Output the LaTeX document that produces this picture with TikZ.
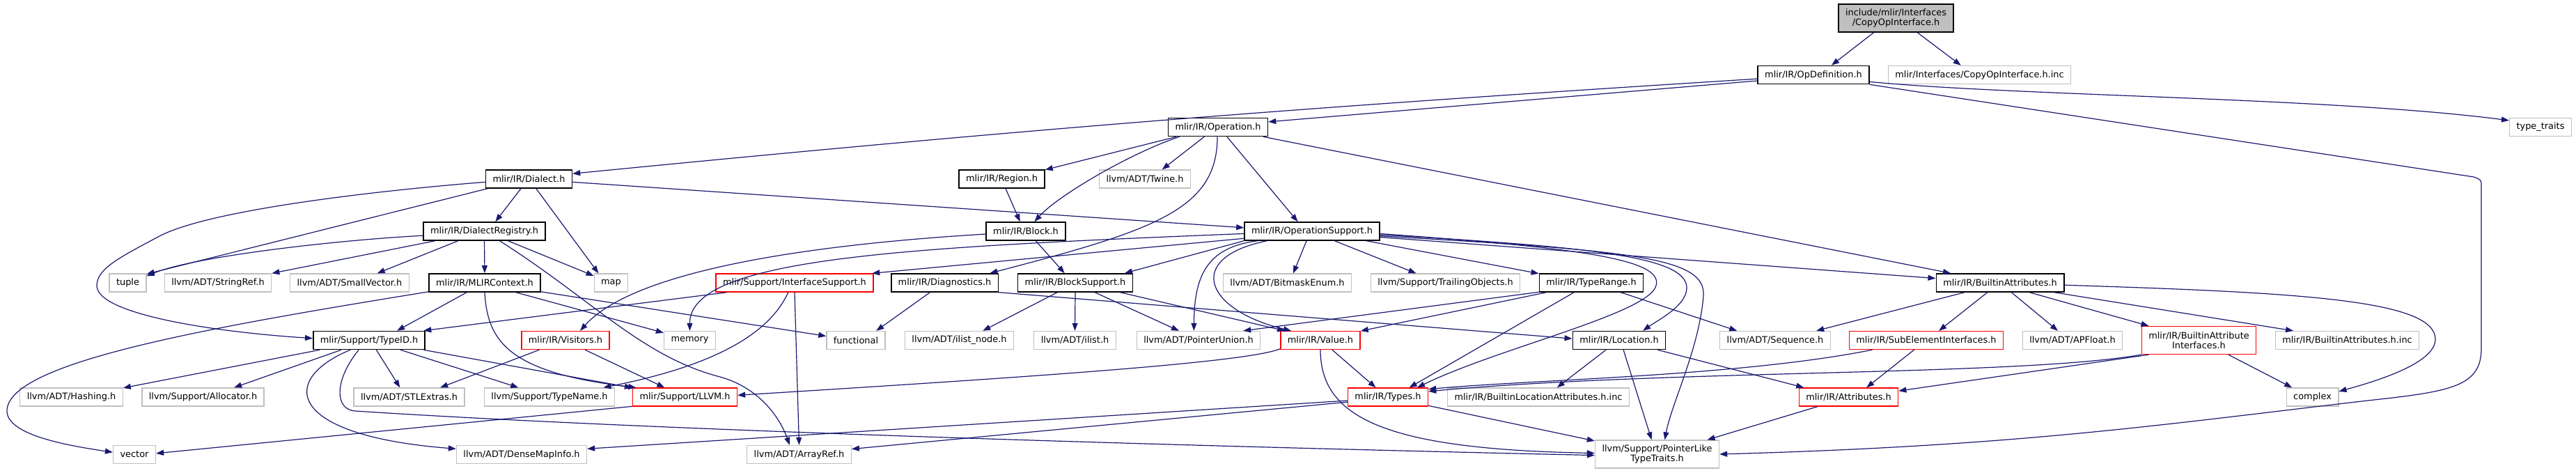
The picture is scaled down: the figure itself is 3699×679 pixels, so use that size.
\documentclass[tikz,border=0pt]{standalone}
\usepackage{fontspec}
\setmainfont{DejaVu Sans}
\usepackage{xcolor}
\usepackage{tikz}
\usetikzlibrary{arrows.meta}
\definecolor{edgeblue}{RGB}{25,25,112}
\definecolor{extgray}{RGB}{191,191,191}
\definecolor{partred}{RGB}{255,0,0}

\begin{document}
\begin{tikzpicture}[
    x=1pt, y=-1pt,
    filebox/.style={rectangle, fill=white, minimum height=26pt, inner xsep=10pt, inner ysep=2pt,
                align=center, font=\fontsize{12.9}{14.5}\selectfont},
    box/.style={filebox, draw=black, line width=1.6pt},
    extbox/.style={filebox, draw=extgray, line width=1.3pt},
    redbox/.style={filebox, draw=partred, line width=1.3pt},
    mainbox/.style={box, fill=extgray},
    twoline/.style={minimum height=40pt},
    arrow/.style={->, >={Stealth[inset=0pt, length=11pt, width=8pt]}, draw=edgeblue, line width=1.2pt}
]
    \fill[white] (0,0) rectangle (3699,679);
    \useasboundingbox (0,0) rectangle (3699,679);

    \node[mainbox, twoline] (copyop) at (2722.5,26) {include/mlir/Interfaces\\/CopyOpInterface.h};
    \node[box] (opdef) at (2604,107.5) {mlir/IR/OpDefinition.h};
    \node[extbox] (copyinc) at (2842.5,107.5) {mlir/Interfaces/CopyOpInterface.h.inc};
    \node[box] (operation) at (1749,182.5) {mlir/IR/Operation.h};
    \node[extbox] (typetraits) at (3648,182.5) {type\_traits};
    \node[box] (dialect) at (759.5,257) {mlir/IR/Dialect.h};
    \node[box] (region) at (1438.5,257) {mlir/IR/Region.h};
    \node[extbox] (twine) at (1644,257) {llvm/ADT/Twine.h};
    \node[box] (dialectreg) at (695.5,332) {mlir/IR/DialectRegistry.h};
    \node[box] (block) at (1473,332) {mlir/IR/Block.h};
    \node[box] (opsupport) at (1884,332) {mlir/IR/OperationSupport.h};

    \node[extbox] (tuple) at (183.5,406) {tuple};
    \node[extbox] (stringref) at (313,406) {llvm/ADT/StringRef.h};
    \node[extbox] (smallvector) at (502,406) {llvm/ADT/SmallVector.h};
    \node[box] (mlircontext) at (696,406) {mlir/IR/MLIRContext.h};
    \node[extbox] (map) at (877.5,406) {map};
    \node[redbox] (ifacesupport) at (1141,406) {mlir/Support/InterfaceSupport.h};
    \node[box] (diagnostics) at (1356.5,406) {mlir/IR/Diagnostics.h};
    \node[box] (blocksupport) at (1544,406) {mlir/IR/BlockSupport.h};
    \node[extbox] (bitmask) at (1848.5,406) {llvm/ADT/BitmaskEnum.h};
    \node[extbox] (trailing) at (2075.5,406) {llvm/Support/TrailingObjects.h};
    \node[box] (typerange) at (2285,406) {mlir/IR/TypeRange.h};
    \node[box] (builtinattr) at (2872,406) {mlir/IR/BuiltinAttributes.h};

    \node[box] (typeid) at (530,488.5) {mlir/Support/TypeID.h};
    \node[redbox] (visitors) at (812,488.5) {mlir/IR/Visitors.h};
    \node[extbox] (memory) at (990.5,488.5) {memory};
    \node[extbox] (functional) at (1229,488.5) {functional};
    \node[extbox] (ilistnode) at (1377.5,488.5) {llvm/ADT/ilist\_node.h};
    \node[extbox] (ilist) at (1543.5,488.5) {llvm/ADT/ilist.h};
    \node[extbox] (pointerunion) at (1721,488.5) {llvm/ADT/PointerUnion.h};
    \node[redbox] (value) at (1896,488.5) {mlir/IR/Value.h};
    \node[box] (location) at (2325,488.5) {mlir/IR/Location.h};
    \node[extbox] (sequence) at (2549,488.5) {llvm/ADT/Sequence.h};
    \node[redbox] (subelem) at (2766,488.5) {mlir/IR/SubElementInterfaces.h};
    \node[extbox] (apfloat) at (2976,488.5) {llvm/ADT/APFloat.h};
    \node[redbox, twoline] (attrifaces) at (3157.5,488.5) {mlir/IR/BuiltinAttribute\\Interfaces.h};
    \node[extbox] (attrinc) at (3370.5,488.5) {mlir/IR/BuiltinAttributes.h.inc};

    \node[extbox] (hashing) at (102.5,570) {llvm/ADT/Hashing.h};
    \node[extbox] (allocator) at (291.5,570) {llvm/Support/Allocator.h};
    \node[extbox] (stlextras) at (587.5,570) {llvm/ADT/STLExtras.h};
    \node[extbox] (typename) at (789,570) {llvm/Support/TypeName.h};
    \node[redbox] (llvmh) at (983.5,570) {mlir/Support/LLVM.h};
    \node[redbox] (types) at (1993,570) {mlir/IR/Types.h};
    \node[extbox] (locinc) at (2209,570) {mlir/IR/BuiltinLocationAttributes.h.inc};
    \node[redbox] (attributes) at (2654.5,570) {mlir/IR/Attributes.h};
    \node[extbox] (complex) at (3320.5,570) {complex};

    \node[extbox] (vector) at (193,652.5) {vector};
    \node[extbox] (densemap) at (749,652.5) {llvm/ADT/DenseMapInfo.h};
    \node[extbox] (arrayref) at (1147.5,652.5) {llvm/ADT/ArrayRef.h};
    \node[extbox, twoline] (pointerlike) at (2379.5,652) {llvm/Support/PointerLike\\TypeTraits.h};

    \draw[arrow] (copyop.213) -- (opdef.28);
    \draw[arrow] (copyop.326) -- (copyinc.153);
    \draw[arrow] (opdef.186) -- (operation.6);
    \draw[arrow] (opdef.184) .. controls (1857,155) and (1488,184) .. (dialect.7);
    \draw[arrow] (opdef.353) .. controls (2900,138) and (3350,140) .. (typetraits.168);
    \draw[arrow] (opdef.south east) -- (3552,254) .. controls (3563,258) .. (3563,268) -- (3563,500)
        .. controls (3563,555) and (3520,562) .. (3400,575) .. controls (3100,610) and (2900,640) .. (pointerlike.east);
    \draw[arrow] (operation.193) -- (region.12);
    \draw[arrow] (operation.194) .. controls (1625,219) and (1520,280) .. (block.48);
    \draw[arrow] (operation.215) -- (twine.29);
    \draw[arrow] (operation.266) .. controls (1748,300) and (1660,330) .. (diagnostics.12);
    \draw[arrow] (operation.313) -- (opsupport.146);
    \draw[arrow] (operation.348) -- (builtinattr.169);
    \draw[arrow] (region.292) -- (block.121);
    \draw[arrow] (dialect.356) -- (opsupport.177);
    \draw[arrow] (dialect.230) -- (dialectreg.41);
    \draw[arrow] (dialect.307) -- (map.143);
    \draw[arrow] (dialect.193) -- (tuple.25);
    \draw[arrow] (dialect.184) .. controls (560,272) and (300,300) .. (227,340)
        .. controls (175,368) and (139,385) .. (139,410) .. controls (139,450) and (300,476) .. (typeid.178);
    \draw[arrow] (dialectreg.184) .. controls (480,345) and (280,368) .. (tuple.20);
    \draw[arrow] (dialectreg.191) -- (stringref.10);
    \draw[arrow] (dialectreg.200) -- (smallvector.19);
    \draw[arrow] (dialectreg.south) -- (mlircontext.north);
    \draw[arrow] (dialectreg.338) -- (map.158);
    \draw[arrow] (dialectreg.328) .. controls (850,430) and (920,510) .. (1030,540)
        .. controls (1090,555) and (1120,600) .. (arrayref.135);
    \draw[arrow] (block.316) -- (blocksupport.138);
    \draw[arrow] (block.184) .. controls (1100,355) and (900,400) .. (visitors.33);
    \draw[arrow] (opsupport.182) .. controls (1300,355) and (990,370) .. (memory.north);
    \draw[arrow] (opsupport.186) -- (ifacesupport.7);
    \draw[arrow] (opsupport.188) -- (blocksupport.11);
    \draw[arrow] (opsupport.190) .. controls (1730,355) and (1715,400) .. (pointerunion.116);
    \draw[arrow] (opsupport.192) .. controls (1700,370) and (1730,445) .. (value.162);
    \draw[arrow] (opsupport.240) -- (bitmask.58);
    \draw[arrow] (opsupport.337) -- (trailing.162);
    \draw[arrow] (opsupport.350) -- (typerange.170);
    \draw[arrow] (opsupport.358) .. controls (2250,355) and (2390,370) .. (2378,410)
        .. controls (2368,450) and (2150,500) .. (types.18);
    \draw[arrow] (opsupport.357) .. controls (2300,355) and (2425,370) .. (2422,415)
        .. controls (2420,440) and (2380,460) .. (location.22);
    \draw[arrow] (opsupport.356) .. controls (2350,360) and (2450,370) .. (2446,425)
        .. controls (2440,500) and (2400,580) .. (pointerlike.62);
    \draw[arrow] (opsupport.355) -- (builtinattr.176);
    \draw[arrow] (mlircontext.189) .. controls (300,470) and (10,520) .. (10,590)
        .. controls (10,625) and (100,640) .. (vector.174);
    \draw[arrow] (mlircontext.208) -- (typeid.19);
    \draw[arrow] (mlircontext.south) .. controls (700,490) and (730,535) .. (llvmh.169);
    \draw[arrow] (mlircontext.343) -- (memory.164);
    \draw[arrow] (mlircontext.351) -- (functional.172);
    \draw[arrow] (ifacesupport.188) -- (typeid.10);
    \draw[arrow] (ifacesupport.236) .. controls (1100,490) and (1000,530) .. (typename.10);
    \draw[arrow] (ifacesupport.south) -- (arrayref.north);
    \draw[arrow] (diagnostics.213) -- (functional.25);
    \draw[arrow] (diagnostics.350) -- (location.178);
    \draw[arrow] (blocksupport.208) -- (ilistnode.22);
    \draw[arrow] (blocksupport.south) -- (ilist.north);
    \draw[arrow] (blocksupport.334) -- (pointerunion.154);
    \draw[arrow] (blocksupport.348) -- (value.165);
    \draw[arrow] (typerange.190) -- (pointerunion.12);
    \draw[arrow] (typerange.192) -- (value.13);
    \draw[arrow] (typerange.209) -- (types.24);
    \draw[arrow] (typerange.342) -- (sequence.166);
    \draw[arrow] (builtinattr.195) -- (sequence.13);
    \draw[arrow] (builtinattr.217) -- (subelem.37);
    \draw[arrow] (builtinattr.320) -- (apfloat.147);
    \draw[arrow] (builtinattr.342) -- (attrifaces.164);
    \draw[arrow] (builtinattr.350) -- (attrinc.170);
    \draw[arrow] (builtinattr.358) .. controls (3300,420) and (3497,430) .. (3497,487)
        .. controls (3497,520) and (3420,545) .. (complex.12);
    \draw[arrow] (typeid.191) -- (hashing.10);
    \draw[arrow] (typeid.199) -- (allocator.17);
    \draw[arrow] (typeid.307) -- (stlextras.134);
    \draw[arrow] (typeid.343) -- (typename.163);
    \draw[arrow] (typeid.350) -- (llvmh.170);
    \draw[arrow] (typeid.207) .. controls (400,545) and (410,625) .. (densemap.175);
    \draw[arrow] (typeid.223) .. controls (480,545) and (480,588) .. (510,590)
        .. controls (1000,622) and (1900,645) .. (pointerlike.181);
    \draw[arrow] (visitors.200) -- (stlextras.17);
    \draw[arrow] (visitors.334) -- (llvmh.155);
    \draw[arrow] (value.192) .. controls (1790,520) and (1500,540) .. (llvmh.2);
    \draw[arrow] (value.321) -- (types.142);
    \draw[arrow] (value.south) .. controls (1896,600) and (1990,645) .. (pointerlike.179);
    \draw[arrow] (location.216) -- (locinc.27);
    \draw[arrow] (location.294) -- (pointerlike.111);
    \draw[arrow] (location.346) -- (attributes.168);
    \draw[arrow] (subelem.190) .. controls (2500,540) and (2200,545) .. (types.11);
    \draw[arrow] (subelem.218) -- (attributes.28);
    \draw[arrow] (attrifaces.194) .. controls (2900,540) and (2400,530) .. (types.8);
    \draw[arrow] (attrifaces.196) -- (attributes.7);
    \draw[arrow] (attrifaces.334) -- (complex.155);
    \draw[arrow] (llvmh.190) -- (vector.3);
    \draw[arrow] (types.185) -- (densemap.5);
    \draw[arrow] (types.187) -- (arrayref.6);
    \draw[arrow] (types.348) -- (pointerlike.168);
    \draw[arrow] (attributes.197) -- (pointerlike.16);
\end{tikzpicture}
\end{document}
